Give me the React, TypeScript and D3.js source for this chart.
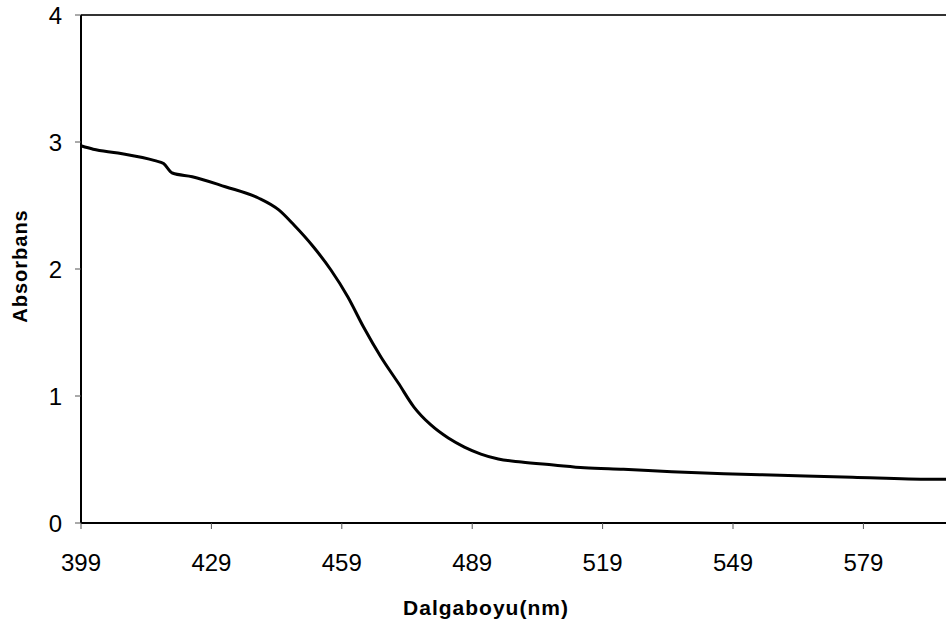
import React from "react";
import * as d3 from "d3";

const wavelengths = [399, 401.8, 407.5, 416, 418, 420, 424.6, 432.2, 439.8, 444.5, 448, 452.5, 456.5, 460.4, 464, 468, 472, 475.6, 479.5, 483.5, 487.2, 491, 495, 500.3, 507.7, 514.8, 523.8, 534.9, 546.9, 559.8, 576.5, 594.5, 598];
const absorbance = [2.97, 2.943, 2.913, 2.853, 2.83, 2.756, 2.727, 2.648, 2.559, 2.465, 2.346, 2.173, 1.992, 1.78, 1.543, 1.307, 1.102, 0.913, 0.772, 0.669, 0.598, 0.543, 0.504, 0.48, 0.457, 0.435, 0.423, 0.404, 0.388, 0.376, 0.36, 0.344, 0.344];
const xTicks = [399, 429, 459, 489, 519, 549, 579];
const yTicks = [0, 1, 2, 3, 4];

const W = 946, H = 626;
const M = { left: 81, top: 15, right: 946, bottom: 523 };

export default function App() {
  const x = d3.scaleLinear().domain([399, 598]).range([M.left, M.right]);
  const y = d3.scaleLinear().domain([0, 4]).range([M.bottom, M.top]);
  const pts = wavelengths.map((w, i) => [w, absorbance[i]] as [number, number]);
  const line = d3.line<[number, number]>().x(d => x(d[0])).y(d => y(d[1])).curve(d3.curveMonotoneX);
  const path = line(pts) || "";
  const font = "'Liberation Sans', Arial, sans-serif";
  return (
    <svg width={W} height={H} style={{ position: "absolute", left: 0, top: 0, background: "#fff" }}>
      <rect x={0} y={0} width={W} height={H} fill="#fff" />
      <line x1={M.left} x2={W} y1={M.top} y2={M.top} stroke="#333" strokeWidth={2} />
      <line x1={M.left} x2={M.left} y1={M.top} y2={M.bottom} stroke="#000" strokeWidth={2} />
      <line x1={M.left} x2={W} y1={M.bottom} y2={M.bottom} stroke="#000" strokeWidth={2} />
      {yTicks.map(t => (
        <g key={"y" + t}>
          <line x1={M.left - 6} x2={M.left} y1={y(t)} y2={y(t)} stroke="#555" strokeWidth={1} />
          <text x={62} y={y(t)} dy="0.36em" textAnchor="end" fontFamily={font} fontSize={24} fill="#000">{t}</text>
        </g>
      ))}
      {xTicks.map(t => (
        <g key={"x" + t}>
          <line x1={x(t)} x2={x(t)} y1={M.bottom} y2={M.bottom + 6} stroke="#555" strokeWidth={1} />
          <text x={x(t)} y={571} textAnchor="middle" fontFamily={font} fontSize={24} fill="#000">{t}</text>
        </g>
      ))}
      <path d={path} fill="none" stroke="#000" strokeWidth={3} />
      <text x={486} y={615} textAnchor="middle" fontFamily={font} fontWeight="bold" fontSize={21} letterSpacing={1} fill="#000">Dalgaboyu(nm)</text>
      <text transform={`translate(27,266) rotate(-90)`} textAnchor="middle" fontFamily={font} fontWeight="bold" fontSize={20} letterSpacing={1} fill="#000">Absorbans</text>
    </svg>
  );
}
